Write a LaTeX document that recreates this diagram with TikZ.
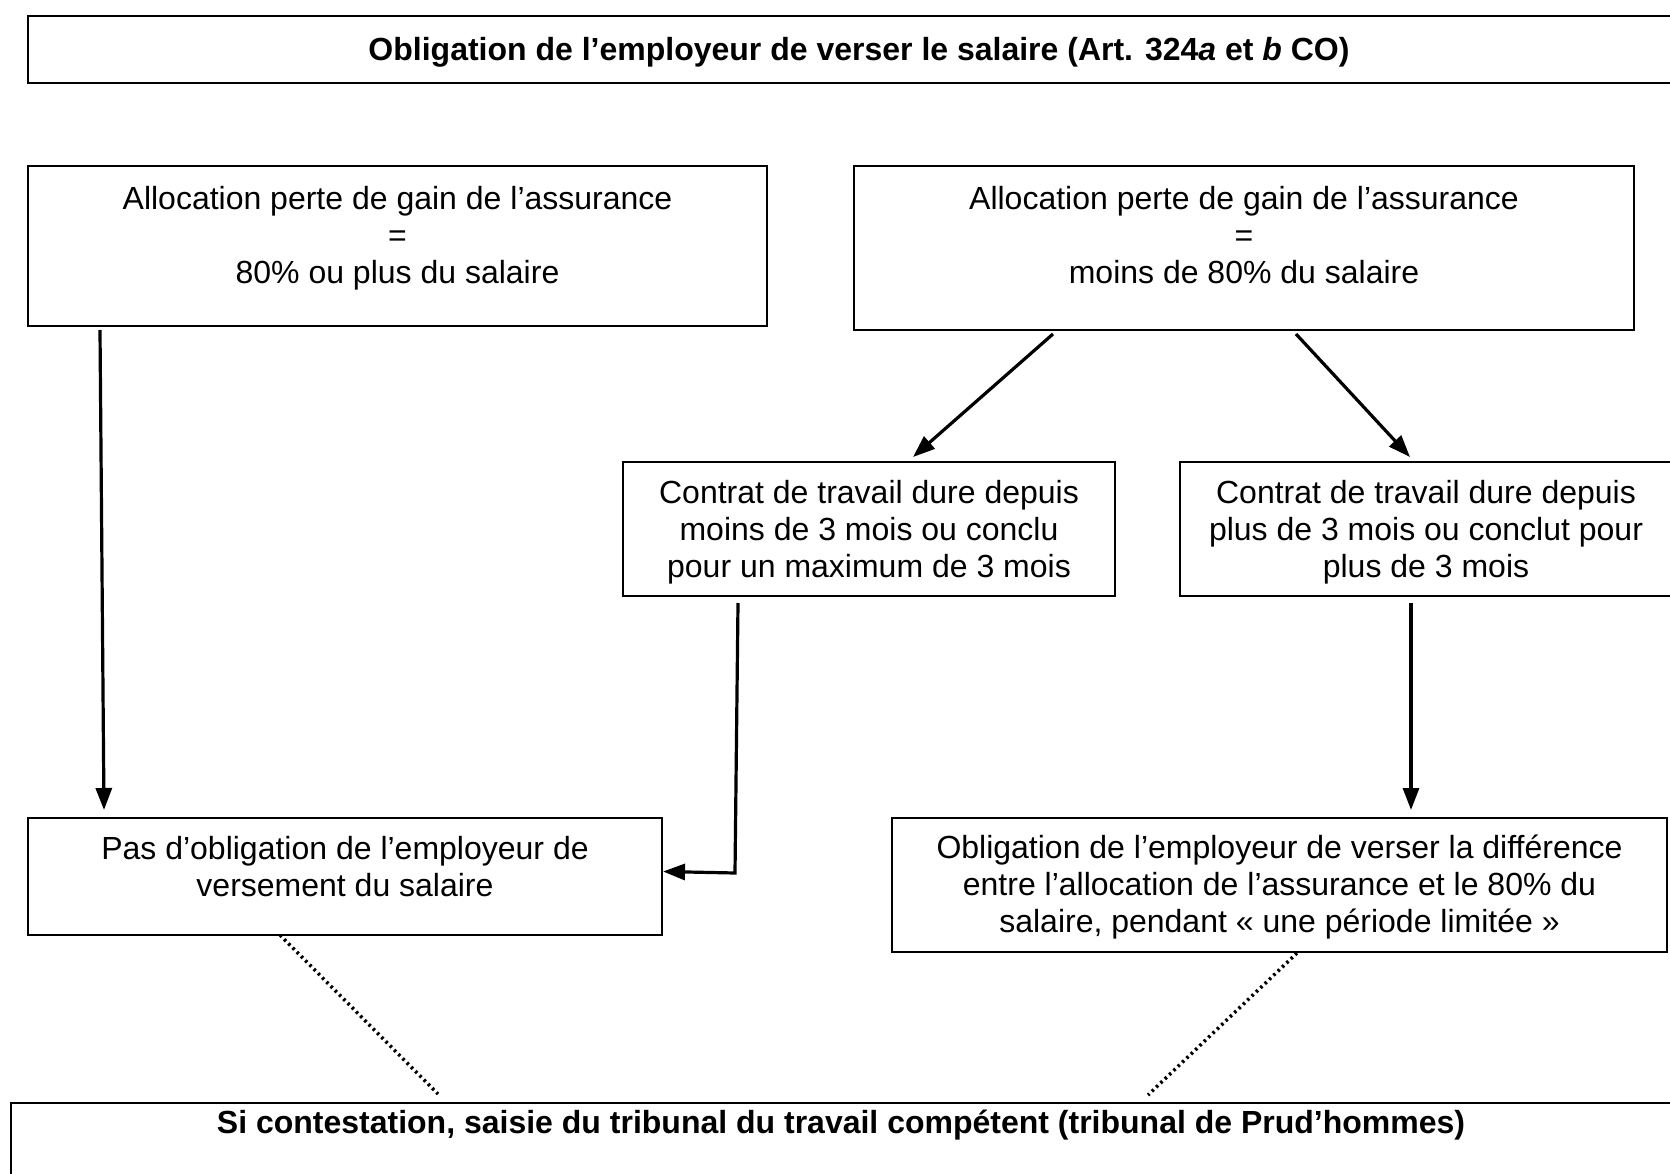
\documentclass[tikz,border=0pt]{standalone}
\usepackage{fontspec}
\setmainfont{Liberation Sans}
\usetikzlibrary{calc,arrows.meta}
\begin{document}
\begin{tikzpicture}[x=1pt,y=-1pt,
  box/.style={draw,line width=2pt,inner sep=0pt,outer sep=0pt},
  txt/.style={align=center,inner sep=0pt,font=\fontsize{32}{37}\selectfont},
  btxt/.style={txt,font=\fontsize{32}{37}\selectfont\bfseries},
  arr/.style={line width=3.2pt,-{Triangle[length=22pt,width=16pt]}},
  dots/.style={line width=3.5pt,dash pattern=on 2.5pt off 3.5pt}]
\useasboundingbox (0,0) rectangle (1670,1174);
\clip (0,0) rectangle (1670,1174);
\fill[white] (0,0) rectangle (1670,1174);
% boxes
\node[box,minimum width=1662pt,minimum height=67pt] (T) at (859,49.5) {};
\node[btxt] (tT) at (859,52) {Obligation de l’employeur de verser le salaire (Art. 324\textit{a} et \textit{b} CO)};
\node[box,minimum width=739pt,minimum height=160pt] (A) at (397.5,246) {};
\node[txt] (tA) at (397.5,238.5) {Allocation perte de gain de l’assurance\\=\\80\% ou plus du salaire};
\node[box,minimum width=780pt,minimum height=164pt] (B) at (1244,248) {};
\node[txt] (tB) at (1244,235) {Allocation perte de gain de l’assurance\\=\\moins de 80\% du salaire};
\node[box,minimum width=492pt,minimum height=134pt] (C) at (869,529) {};
\node[txt] (tC) at (869,532) {Contrat de travail dure depuis\\moins de 3 mois ou conclu\\pour un maximum de 3 mois};
\node[box,minimum width=492pt,minimum height=134pt] (D) at (1426,529) {};
\node[txt] (tD) at (1426,532) {Contrat de travail dure depuis\\plus de 3 mois ou conclut pour\\plus de 3 mois};
\node[box,minimum width=634pt,minimum height=117pt] (E) at (345,876.5) {};
\node[txt] (tE) at (345,866.5) {Pas d’obligation de l’employeur de\\versement du salaire};
\node[box,minimum width=775pt,minimum height=134pt] (F) at (1279.5,885) {};
\node[txt] (tF) at (1279.5,887.5) {Obligation de l’employeur de verser la différence\\entre l’allocation de l’assurance et le 80\% du\\salaire, pendant « une période limitée »};
\node[box,minimum width=1679pt,minimum height=97pt] (G) at (850.5,1151.5) {};
\node[btxt] (tG) at (841,1125) {Si contestation, saisie du tribunal du travail compétent (tribunal de Prud’hommes)};
% connectors
\draw[arr] ($(A.south west)+(72,4)$) -- ($(E.north west)+(76,-8)$);
\draw[arr] ($(B.south west)+(199,4)$) -- ($(C.north west)+(290,-5)$);
\draw[arr] ($(B.south west)+(442,4)$) -- ($(D.north west)+(230,-5)$);
\draw[arr] ($(C.south west)+(115,7)$) -- ($(C.south west)+(112,277)$) -- ($(E.east)+(1,-5)$);
\draw[arr] ($(D.south west)+(231,7)$) -- ($(F.north west)+(519,-8)$);
\draw[dots] ($(E.south west)+(252,0)$) -- ($(G.north west)+(427,-9)$);
\draw[dots] ($(F.south west)+(405,1)$) -- ($(G.north west)+(1137,-8)$);
\end{tikzpicture}
\end{document}
